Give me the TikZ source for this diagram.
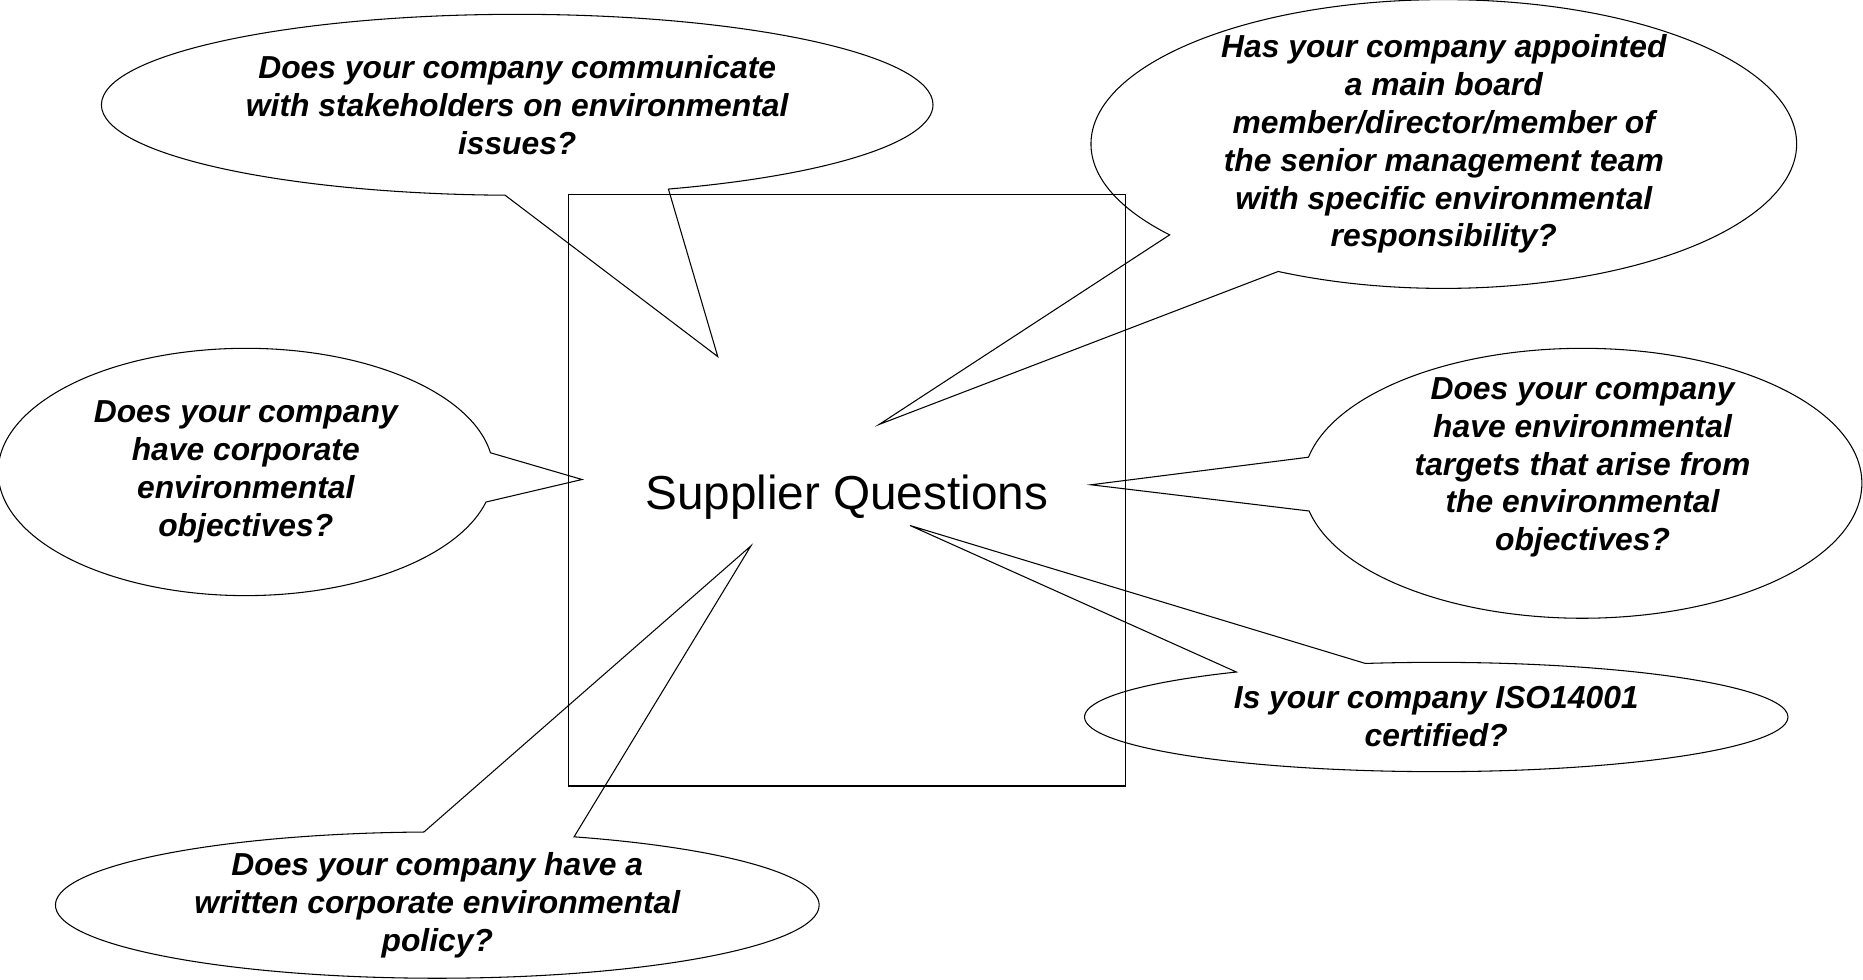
\documentclass[tikz,border=0pt]{standalone}
\usepackage{fontspec}
\setmainfont{Liberation Sans}
\usetikzlibrary{shapes.callouts}

\begin{document}
\begin{tikzpicture}[
        bubble/.style={ellipse callout, draw, align=center, inner xsep=0pt, inner ysep=-0.4cm,
            callout pointer arc=23, font=\bfseries\itshape\fontsize{12}{14.3}\selectfont}]
    \useasboundingbox (0,0) rectangle (24.71,12.99);
    \node[draw, minimum width=7.39cm, minimum height=7.85cm, font=\fontsize{18}{21}\selectfont] (sq) at (11.23,6.49)
        {\raisebox{-0.1cm}[\height][\depth]{Supplier Questions}};
    % where the tails end, inside the square
    \coordinate (tipA) at (9.52,8.26);
    \coordinate (tipB) at (11.66,7.36);
    \coordinate (tipC) at (7.72,6.63);
    \coordinate (tipD) at (14.47,6.56);
    \coordinate (tipE) at (12.07,6.02);
    \coordinate (tipF) at (9.96,5.75);
    \node[bubble, minimum width=11.03cm, minimum height=2.40cm, callout absolute pointer={(tipA)}] (stake) at (6.86,11.60)
        {Does your company communicate\\with stakeholders on environmental\\issues?};
    \node[bubble, minimum width=9.36cm, minimum height=3.83cm, callout absolute pointer={(tipB)}] (board) at (19.15,11.08)
        {Has your company appointed\\a main board\\member/director/member of\\the senior management team\\with specific environmental\\responsibility?};
    \node[bubble, minimum width=6.57cm, minimum height=3.28cm, callout absolute pointer={(tipC)}] (objectives) at (3.26,6.73)
        {Does your company\\have corporate\\environmental\\objectives?};
    % text sits a little high in this one
    \node[bubble, minimum width=7.41cm, minimum height=3.58cm, callout absolute pointer={(tipD)}] (targets) at (20.99,6.58)
        {\raisebox{0.21cm}[\height][\depth]{\begin{tabular}{@{}c@{}}Does your company\\have environmental\\targets that arise from\\the environmental\\objectives?\end{tabular}}};
    \node[bubble, minimum width=9.33cm, minimum height=1.45cm, callout absolute pointer={(tipE)}] (iso) at (19.05,3.48)
        {Is your company ISO14001\\certified?};
    \node[bubble, minimum width=10.13cm, minimum height=1.94cm, callout absolute pointer={(tipF)}] (policy) at (5.80,0.985)
        {Does your company have a\\written corporate environmental\\policy?};
\end{tikzpicture}
\end{document}
